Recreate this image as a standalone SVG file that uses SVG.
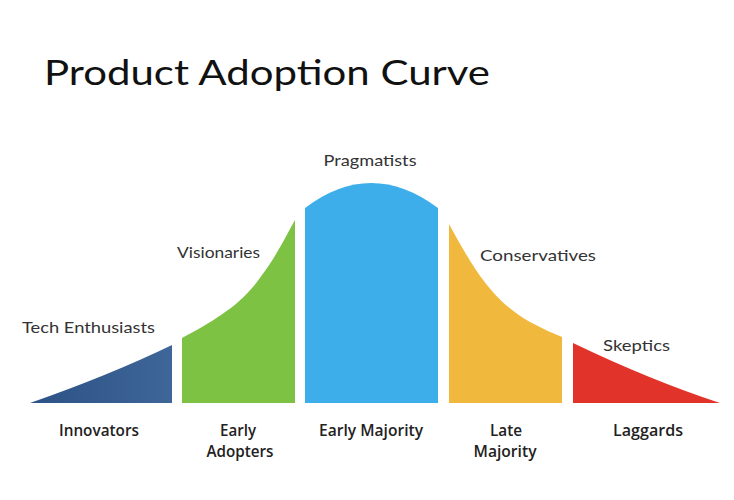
<svg xmlns="http://www.w3.org/2000/svg" width="734" height="500" viewBox="0 0 734 500">
  <defs>
    <linearGradient id="navy" x1="0" y1="0" x2="1" y2="0">
      <stop offset="0" stop-color="#2c5286"/>
      <stop offset="1" stop-color="#3f6698"/>
    </linearGradient>
    <style>
      .title { font-family: "Lato", "Open Sans", sans-serif; font-size: 35px; fill: #111; }
      .top { font-family: "Lato", "Open Sans", sans-serif; font-size: 15px; fill: #333; }
      .bot { font-family: "Open Sans", "Liberation Sans", sans-serif; font-size: 17px; font-weight: 600; fill: #222; text-anchor: middle; }
    </style>
  </defs>
  <rect width="734" height="500" fill="#ffffff"/>
  <text class="title" x="44" y="85" textLength="446" lengthAdjust="spacingAndGlyphs">Product Adoption Curve</text>

  <g id="innovators">
    <path d="M30,403 Q110,375 172,345 L172,403 Z" fill="url(#navy)"/>
    <text class="top" x="22" y="333" textLength="133" lengthAdjust="spacingAndGlyphs">Tech Enthusiasts</text>
    <text class="bot" x="99" y="436" textLength="80" lengthAdjust="spacingAndGlyphs">Innovators</text>
  </g>
  <g id="early-adopters">
    <path d="M182,338 C225,315 245,300 262,275 C275,258 285,238 295,220 L295,403 L182,403 Z" fill="#7dc243"/>
    <text class="top" x="177" y="258" textLength="83" lengthAdjust="spacingAndGlyphs">Visionaries</text>
    <text class="bot" x="238" y="436" textLength="36" lengthAdjust="spacingAndGlyphs">Early</text>
    <text class="bot" x="240" y="457" textLength="67" lengthAdjust="spacingAndGlyphs">Adopters</text>
  </g>
  <g id="early-majority">
    <path d="M305,208 Q371,158 438,208 L438,403 L305,403 Z" fill="#3daeea"/>
    <text class="top" x="370" y="166" text-anchor="middle" textLength="93" lengthAdjust="spacingAndGlyphs">Pragmatists</text>
    <text class="bot" x="371" y="436" textLength="104" lengthAdjust="spacingAndGlyphs">Early Majority</text>
  </g>
  <g id="late-majority">
    <path d="M449,224 C470,262 490,300 530,322 C545,330 555,334 562,337 L562,403 L449,403 Z" fill="#f0b93d"/>
    <text class="top" x="480" y="261" textLength="116" lengthAdjust="spacingAndGlyphs">Conservatives</text>
    <text class="bot" x="506" y="436" textLength="32" lengthAdjust="spacingAndGlyphs">Late</text>
    <text class="bot" x="505" y="457" textLength="63" lengthAdjust="spacingAndGlyphs">Majority</text>
  </g>
  <g id="laggards">
    <path d="M573,343 Q650,380 720,403 L573,403 Z" fill="#e2332b"/>
    <text class="top" x="603" y="351" textLength="67" lengthAdjust="spacingAndGlyphs">Skeptics</text>
    <text class="bot" x="648" y="436" textLength="70" lengthAdjust="spacingAndGlyphs">Laggards</text>
  </g>
  <g id="connectors"/>
</svg>
